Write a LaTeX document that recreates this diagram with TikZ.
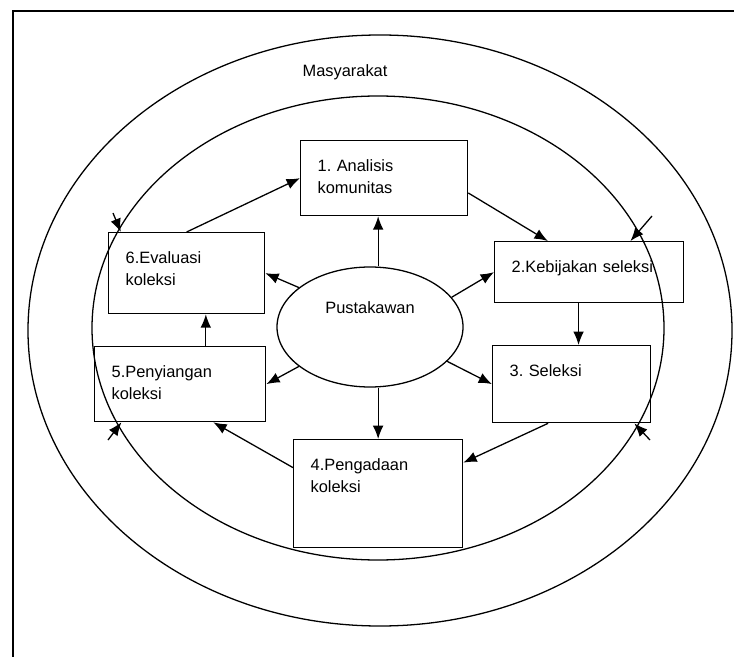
\documentclass[tikz,border=0pt]{standalone}
\usepackage{fontspec}
\setmainfont{Liberation Sans}
\usetikzlibrary{shapes.geometric,arrows.meta,calc}
\tikzset{
  stage/.style 2 args = {
    shape = rectangle,
    draw,
    anchor = north west,
    align = left,
    inner xsep = 0.51cm,
    inner ysep = 0pt,
    text height = 0.93cm,
    text width = #1,
    text depth = #2}
}

\begin{document}
\begin{tikzpicture}[x = 0.03cm, y = -0.03cm, line width = 1.1pt, >={Latex[length=4mm,width=3.2mm]}, font = \fontsize{14}{18.5}\selectfont]
  \useasboundingbox (0,0) rectangle (734,657);
  \draw[line width = 1.4pt] (13,11) rectangle (760,690);
  % rings
  \draw (380,330.5) ellipse [x radius = 352, y radius = 295.5];
  \draw (378,328) ellipse [x radius = 286, y radius = 232];
  \node (society) at (345,72) {Masyarakat};
  \node[draw, ellipse, minimum width = 5.58cm, minimum height = 3.6cm, inner sep = 0pt, text depth = 1.14cm] (librarian) at (370,327) {Pustakawan};
  % stages
  \node[stage = {3.99cm}{1.32cm}] (analysis) at (300,140) {1.\ Analisis\\komunitas};
  \node[stage = {4.65cm}{0.90cm}] (policy) at (494,241) {2.Kebijakan seleksi};
  \node[stage = {3.72cm}{1.38cm}] (selection) at (492,345) {3.\ Seleksi};
  \node[stage = {4.05cm}{2.31cm}] (acquisition) at (293,439) {4.Pengadaan\\koleksi};
  \node[stage = {4.11cm}{1.32cm}] (weeding) at (94,346) {5.Penyiangan\\koleksi};
  \node[stage = {3.66cm}{1.50cm}] (evaluation) at (108,232) {6.Evaluasi\\koleksi};
  % cycle
  \draw[->] (evaluation.north) -- (analysis.west);
  \draw[->] (analysis.-10) -- (policy.143);
  \draw[->] (policy.south -| selection.80) -- (selection.80);
  \draw[->] (selection.239) -- (acquisition.20);
  \draw[->] (acquisition.163) -- (weeding.-49);
  \draw[->] (weeding.north -| evaluation.-65) -- (evaluation.-65);
  % from the librarian
  \draw[->] (librarian.north -| acquisition.north) -- (analysis.south -| acquisition.north);
  \draw[->] (librarian.south -| acquisition.north) -- (acquisition.north);
  \draw[->] (librarian.151) -- (evaluation.east);
  \draw[->] (librarian.20) -- (policy.west);
  \draw[->] (librarian.209) -- (weeding.east);
  \draw[->] (librarian.336) -- (selection.west);
  % from the society
  \coordinate (society nw) at (113,213);
  \coordinate (society ne) at (652,216);
  \coordinate (society sw) at (108,440);
  \coordinate (society se) at (650,440);
  \draw[->] (society nw) -- (evaluation.148);
  \draw[->] (society ne) -- (policy.37);
  \draw[->] (society sw) -- (weeding.213);
  \draw[->] (society se) -- (selection.-32);
\end{tikzpicture}
\end{document}
